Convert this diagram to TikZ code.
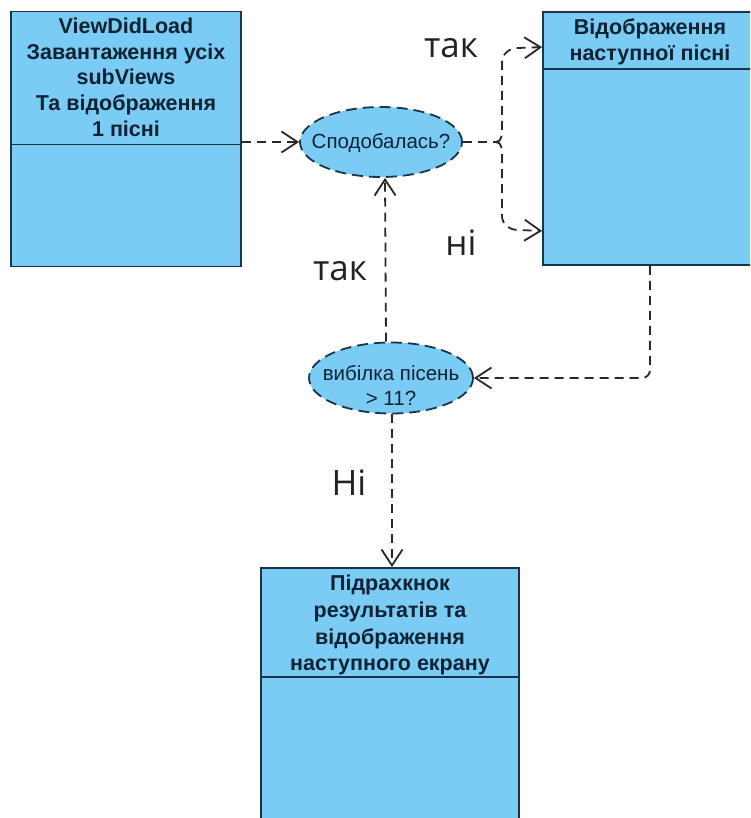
\documentclass[tikz,border=0pt]{standalone}
\usepackage{fontspec}
\setmainfont{Liberation Sans}
\newfontfamily\labelfont{Open Sans}
\usetikzlibrary{arrows.meta,shapes.geometric}

\definecolor{boxfill}{RGB}{122,204,244}
\definecolor{boxline}{RGB}{28,52,72}
\definecolor{boxtext}{RGB}{16,34,52}
\definecolor{flow}{RGB}{40,40,40}
\definecolor{lblcol}{RGB}{34,34,34}

\begin{document}
\begin{tikzpicture}[x=1pt,y=-1pt,
  panel/.style={draw=boxline, fill=boxfill, line width=1.8pt, rectangle, inner sep=0pt},
  divider/.style={draw=boxline, line width=1.8pt},
  decision/.style={ellipse, draw=boxline, fill=boxfill, line width=1.8pt,
    dash pattern=on 11pt off 6pt, inner sep=0pt},
  dtext/.style={align=center, text=boxtext, inner sep=0pt,
    font=\fontsize{20.5}{25}\selectfont},
  title/.style={align=center, text=boxtext, anchor=north, inner sep=0pt,
    font=\bfseries\fontsize{21.5}{25.8}\selectfont},
  flowline/.style={draw=flow, line width=1.8pt, dash pattern=on 9pt off 6pt},
  barb/.style={-{Straight Barb[length=16pt,width=21pt]}},
  lbl/.style={text=lblcol, anchor=base, inner sep=0pt,
    font=\labelfont\fontsize{35}{35}\selectfont}
]
\path[use as bounding box] (0,0) rectangle (750,818);
\clip (0,0) rectangle (750,818);

% process boxes
\node[panel, minimum width=230pt, minimum height=255pt] (b1) at (126,139) {};
\node[panel, minimum width=214pt, minimum height=253pt] (b2) at (650,138.5) {};
\node[panel, minimum width=258pt, minimum height=272pt] (b3) at (390,704) {};

\draw[divider] ([yshift=-134pt]b1.north west) -- ([yshift=-134pt]b1.north east);
\draw[divider] ([yshift=-58pt]b2.north west) -- ([yshift=-58pt]b2.north east);
\draw[divider] ([yshift=-110pt]b3.north west) -- ([yshift=-110pt]b3.north east);

\node[title] (t1) at (126,17.5) {ViewDidLoad\\Завантаження усіх\\subViews\\Та відображення\\1 пісні};
\node[title] (t2) at (650,19) {Відображення\\наступної пісні};
\node[title, font=\bfseries\fontsize{21.5}{26.7}\selectfont] (t3) at (390,575) {Підрахкнок\\результатів та\\відображення\\наступного екрану};

% decisions: fixed-size ellipses with their questions on top
\node[decision, minimum width=162pt, minimum height=70pt] (e1) at (381,142) {};
\node[decision, minimum width=164pt, minimum height=71pt] (e2) at (391,378) {};
\node[dtext] (q1) at ([yshift=-1pt]e1.center) {Сподобалась?};
\node[dtext] (q2) at ([yshift=-7pt]e2.center) {вибілка пісень\\> 11?};

% connectors
\coordinate (fork) at (496,142);
\draw[flowline, barb] (b1.east |- e1.west) -- (e1.west);
\draw[flowline] (e1.east) -- (fork);
\draw[flowline, barb] (fork) to[out=0,in=-90] (502,128) -- (502,62)
  to[out=90,in=180] (518,48) -- ([yshift=-36pt]b2.north west);
\draw[flowline, barb] (fork) to[out=0,in=90] (502,156) -- (502,216)
  to[out=-90,in=180] (518,230) -- ([yshift=35pt]b2.south west);
\draw[flowline, barb, rounded corners=8pt] (b2.south) -- (b2.south |- e2.east) -- (e2.east);
\draw[flowline, barb] ([xshift=-5pt]e2.north) -- ([xshift=4pt]e1.south);
\draw[flowline, barb] ([xshift=1pt]e2.south) -- ([xshift=1pt]e2.south |- b3.north);

% branch labels
\node[lbl] (l1) at (451,58) {так};
\node[lbl] (l2) at (461,255) {ні};
\node[lbl] (l3) at (340,280) {так};
\node[lbl] (l4) at (349,495) {Ні};
\end{tikzpicture}
\end{document}
